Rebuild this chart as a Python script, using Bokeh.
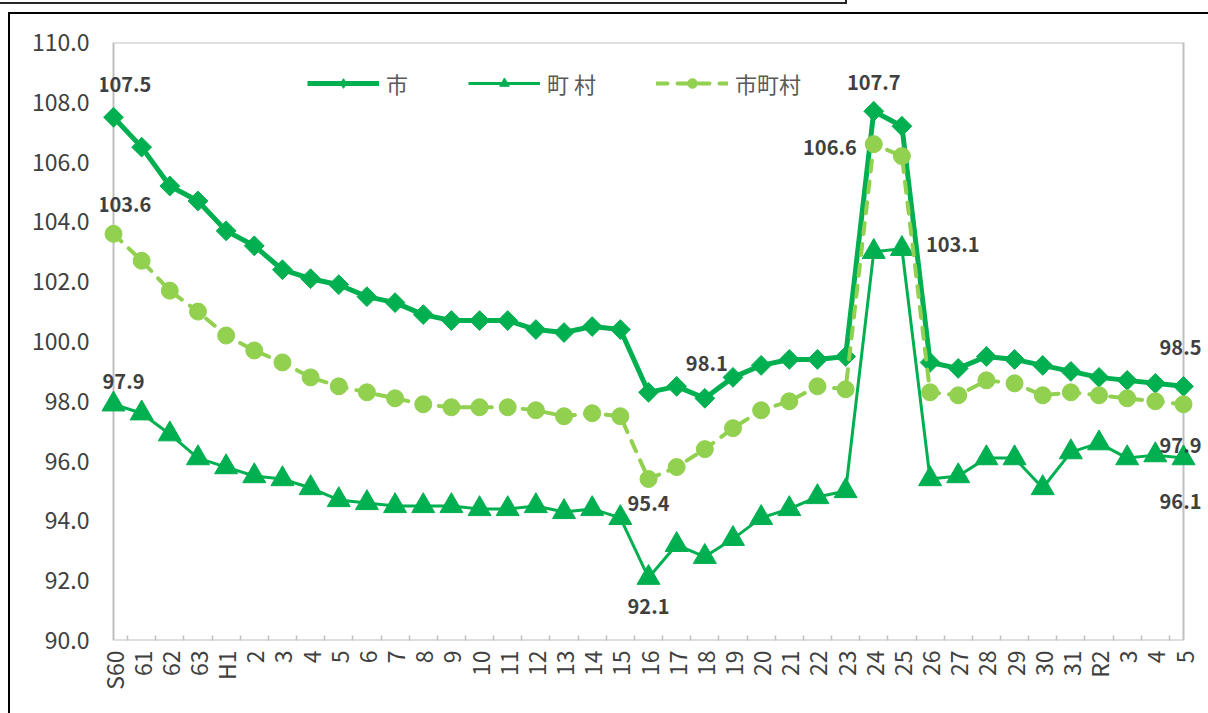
import math
from bokeh.plotting import figure
from bokeh.models import (Range1d, FixedTicker, PrintfTickFormatter, Legend, LegendItem,
                          ColumnDataSource, InlineStyleSheet)
from bokeh.core.properties import value
from bokeh.embed import file_html
from bokeh.resources import INLINE

# ---------------- data ----------------
CATEGORIES = ["S60", "61", "62", "63", "H1"] + [str(i) for i in range(2, 32)] + ["R2", "3", "4", "5"]

SHI = [107.5, 106.5, 105.2, 104.7, 103.7, 103.2, 102.4, 102.1, 101.9, 101.5,
       101.3, 100.9, 100.7, 100.7, 100.7, 100.4, 100.3, 100.5, 100.4, 98.3,
       98.5, 98.1, 98.8, 99.2, 99.4, 99.4, 99.5, 107.7, 107.2, 99.3,
       99.1, 99.5, 99.4, 99.2, 99.0, 98.8, 98.7, 98.6, 98.5]

CHOSON = [97.9, 97.6, 96.9, 96.1, 95.8, 95.5, 95.4, 95.1, 94.7, 94.6,
          94.5, 94.5, 94.5, 94.4, 94.4, 94.5, 94.3, 94.4, 94.1, 92.1,
          93.2, 92.8, 93.4, 94.1, 94.4, 94.8, 95.0, 103.0, 103.1, 95.4,
          95.5, 96.1, 96.1, 95.1, 96.3, 96.6, 96.1, 96.2, 96.1]

SHICHOSON = [103.6, 102.7, 101.7, 101.0, 100.2, 99.7, 99.3, 98.8, 98.5, 98.3,
             98.1, 97.9, 97.8, 97.8, 97.8, 97.7, 97.5, 97.6, 97.5, 95.4,
             95.8, 96.4, 97.1, 97.7, 98.0, 98.5, 98.4, 106.6, 106.2, 98.3,
             98.2, 98.7, 98.6, 98.2, 98.3, 98.2, 98.1, 98.0, 97.9]

Y_TICKS = [90.0, 92.0, 94.0, 96.0, 98.0, 100.0, 102.0, 104.0, 106.0, 108.0, 110.0]
LEGEND_LABELS = ["市", "町 村", "市町村"]

# ---------------- styles ----------------
FONT = "Noto Sans CJK JP"
GREEN = "#00B050"
LIGHT = "#92D050"
W, H = 1208, 713
B_LEFT, B_TOP, B_BOTTOM = 100, 42, 73
X0_PX = 113   # where the first category sits on the canvas

n = len(CATEGORIES)
xs = list(range(n))
unit = (1183 - X0_PX) / (n - 1)
x_start = -(X0_PX - B_LEFT) / unit
x_end = x_start + (W - B_LEFT) / unit

css = InlineStyleSheet(css="""
:host::after { content: ""; position: absolute; left: 8px; top: 12px; right: 0; bottom: 0;
  border-left: 2px solid #000; border-top: 2px solid #000; pointer-events: none; z-index: 10; }
:host::before { content: ""; position: absolute; left: -2px; top: -20px; width: 845px; height: 20px;
  border: 2px solid #262626; pointer-events: none; z-index: 10; }
""")

p = figure(width=W, height=H, output_backend="svg", toolbar_location=None,
           x_range=Range1d(x_start, x_end), y_range=Range1d(Y_TICKS[0], Y_TICKS[-1]),
           min_border_left=B_LEFT, min_border_right=0, min_border_top=B_TOP,
           min_border_bottom=B_BOTTOM, stylesheets=[css])
p.outline_line_color = None
p.xgrid.visible = False
p.ygrid.visible = False
p.background_fill_color = "white"
p.border_fill_color = "white"

# x axis
xa = p.xaxis[0]
xa.ticker = FixedTicker(ticks=xs, minor_ticks=[i + 0.5 for i in range(n - 1)])
xa.major_label_overrides = {i: c for i, c in enumerate(CATEGORIES)}
xa.axis_line_color = None
xa.major_tick_line_color = None
xa.major_tick_in = 0
xa.major_tick_out = 0
xa.minor_tick_line_color = "#BFBFBF"
xa.minor_tick_line_width = 1.5
xa.minor_tick_in = 5
xa.minor_tick_out = 0
xa.major_label_orientation = math.pi / 2
xa.major_label_standoff = 10
xa.major_label_text_font = FONT
xa.major_label_text_font_size = "23px"
xa.major_label_text_color = "#404040"

# y axis
ya = p.yaxis[0]
ya.ticker = FixedTicker(ticks=Y_TICKS)
ya.formatter = PrintfTickFormatter(format="%.1f")
ya.axis_line_color = None
ya.major_tick_line_color = None
ya.minor_tick_line_color = None
ya.major_tick_in = 0
ya.major_tick_out = 0
ya.major_label_standoff = 11
ya.major_label_text_font = FONT
ya.major_label_text_font_size = "23px"
ya.major_label_text_color = "#404040"

# plot-area frame (gray)
X0, X1 = 0, n - 1
Y0, Y1 = Y_TICKS[0], Y_TICKS[-1]
p.line([X0, X0, X1, X1, X0], [Y0, Y1, Y1, Y0, Y0], line_color="#BFBFBF", line_width=2)

# series
r1l = p.line(xs, SHI, line_color=GREEN, line_width=5, line_join="round")
# narrow diamond (used for the legend key), hidden under the rotated squares
r1leg = p.scatter(xs, SHI, marker="diamond", size=14, color=GREEN)
r1m = p.scatter(xs, SHI, marker="square", angle=math.pi / 4, size=14, color=GREEN)
r2l = p.line(xs, CHOSON, line_color=GREEN, line_width=3, line_join="round")
r2m = p.scatter(xs, CHOSON, marker="triangle", size=23, color=GREEN)
r3l = p.line(xs, SHICHOSON, line_color=LIGHT, line_width=4, line_dash="11 10",
             line_cap="round", line_join="round")
r3m = p.scatter(xs, SHICHOSON, marker="circle", size=17, color=LIGHT)

# data labels
SERIES = {"shi": SHI, "choson": CHOSON, "shichoson": SHICHOSON}
LABEL_SPECS = [  # series, index, x offset px, y offset px, align
    ("shi", 0, 11, -33, "center"),
    ("shichoson", 0, 11, -29, "center"),
    ("choson", 0, 10, -23, "center"),
    ("shichoson", 19, 0, 24, "center"),
    ("choson", 19, 0, 29, "center"),
    ("shi", 21, 2, -35, "center"),
    ("shi", 27, 0, -29, "center"),
    ("shichoson", 27, -17, 3, "right"),
    ("choson", 28, 24, -4, "left"),
    ("shi", 38, -3, -39, "center"),
    ("shichoson", 38, -3, 41, "center"),
    ("choson", 38, -3, 43, "center"),
]
for align in ("center", "left", "right"):
    specs = [s for s in LABEL_SPECS if s[4] == align]
    if not specs:
        continue
    src = ColumnDataSource(dict(
        x=[xs[i] for _, i, _, _, _ in specs],
        y=[SERIES[k][i] for k, i, _, _, _ in specs],
        text=[f"{SERIES[k][i]:.1f}" for k, i, _, _, _ in specs],
        xo=[dx for _, _, dx, _, _ in specs],
        yo=[dy for _, _, _, dy, _ in specs],
    ))
    p.text(x="x", y="y", text="text", x_offset="xo", y_offset="yo", source=src,
           text_align=align, text_baseline="middle", text_font=value(FONT),
           text_font_size="20px", text_font_style="bold", text_color="#404040")

# legend
legend = Legend(items=[
    LegendItem(label=LEGEND_LABELS[0], renderers=[r1l, r1leg]),
    LegendItem(label=LEGEND_LABELS[1], renderers=[r2l, r2m]),
    LegendItem(label=LEGEND_LABELS[2], renderers=[r3l, r3m]),
], orientation="horizontal", location=(207, 541), glyph_width=72, glyph_height=24,
    label_height=24, label_standoff=7, spacing=60, padding=0, margin=0,
    border_line_color=None, background_fill_alpha=0,
    label_text_font=FONT, label_text_font_size="22px", label_text_color="#595959")
p.add_layout(legend)

open("out.html", "w").write(file_html(p, INLINE))
